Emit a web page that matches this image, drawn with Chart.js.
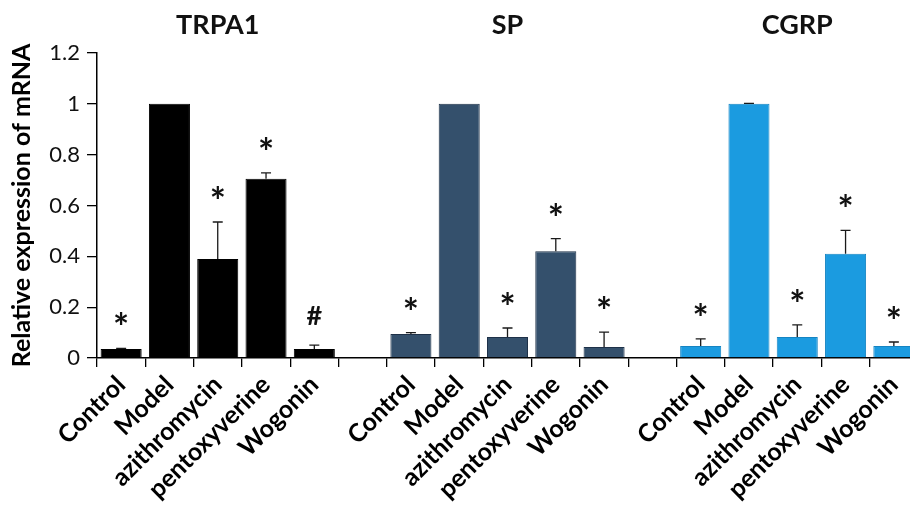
<!DOCTYPE html>
<html>
<head>
<meta charset="utf-8">
<title>Relative expression of mRNA</title>
<script src="https://cdn.jsdelivr.net/npm/chart.js@4.4.1/dist/chart.umd.min.js"></script>
<style>
  html, body { margin: 0; padding: 0; background: #fff; overflow: hidden; }
  #wrap { width: 910px; height: 513px; overflow: hidden; }
  canvas { display: block; }
</style>
</head>
<body>
<div id="wrap"><canvas id="chart" width="925" height="513"></canvas></div>
<script>
// Gene panels and treatment groups
const genes = ["TRPA1", "SP", "CGRP"];
const treatments = ["Control", "Model", "azithromycin", "pentoxyverine", "Wogonin"];

// Mean relative expression (Model = 1) and upper error (SD)
const trpa1Mean = [0.035, 1.0, 0.39, 0.705, 0.035];
const trpa1Err  = [0.003, 0.0, 0.145, 0.023, 0.016];
const spMean    = [0.094, 1.0, 0.083, 0.42, 0.043];
const spErr     = [0.006, 0.0, 0.035, 0.05, 0.059];
const cgrpMean  = [0.047, 1.0, 0.083, 0.41, 0.047];
const cgrpErr   = [0.028, 0.002, 0.047, 0.092, 0.016];

// Significance marks
const trpa1Marks = ["*", "", "*", "*", "#"];
const spMarks    = ["*", "", "*", "*", "*"];
const cgrpMarks  = ["*", "", "*", "*", "*"];

// Y axis ticks
const yTicks = [0, 0.2, 0.4, 0.6, 0.8, 1, 1.2];

const colors = {
  TRPA1: { fill: "#000000", edge: "#000000" },
  SP:    { fill: "#34506c", edge: "#1e3148" },
  CGRP:  { fill: "#1b9be0", edge: "#1584c2" }
};

const FONT = "Lato, 'Open Sans', sans-serif";

// Category axis: five treatments per gene, with an empty slot between genes
const labels = [];
const slotOf = {};
genes.forEach((g, gi) => {
  if (gi > 0) labels.push("");
  slotOf[g] = labels.length;
  treatments.forEach(t => labels.push(t));
});

function spread(gene, values) {
  const out = labels.map(() => null);
  values.forEach((v, i) => { out[slotOf[gene] + i] = v; });
  return out;
}

const seriesDefs = [
  { gene: "TRPA1", mean: trpa1Mean, err: trpa1Err, marks: trpa1Marks },
  { gene: "SP",    mean: spMean,    err: spErr,    marks: spMarks },
  { gene: "CGRP",  mean: cgrpMean,  err: cgrpErr,  marks: cgrpMarks }
];

const datasets = seriesDefs.map(s => ({
  label: s.gene,
  data: spread(s.gene, s.mean),
  errors: spread(s.gene, s.err),
  marks: spread(s.gene, s.marks),
  backgroundColor: colors[s.gene].fill,
  borderColor: colors[s.gene].edge,
  borderWidth: 1,
  grouped: false,
  barPercentage: 0.85,
  categoryPercentage: 1.0
}));

// Upper error whiskers, significance marks and gene titles
const annotations = {
  id: "annotations",
  afterDatasetsDraw(chart) {
    const ctx = chart.ctx;
    const y = chart.scales.y;
    const x = chart.scales.x;
    ctx.save();
    chart.data.datasets.forEach((ds, di) => {
      const meta = chart.getDatasetMeta(di);
      ds.data.forEach((v, i) => {
        if (v === null) return;
        const bar = meta.data[i];
        const e = ds.errors[i] || 0;
        const top = y.getPixelForValue(v + e);
        const base = y.getPixelForValue(v);
        if (e > 0) {
          ctx.strokeStyle = "#1a1a1a";
          ctx.lineWidth = 1.3;
          ctx.beginPath();
          ctx.moveTo(bar.x, base);
          ctx.lineTo(bar.x, top);
          ctx.moveTo(bar.x - 5, top);
          ctx.lineTo(bar.x + 5, top);
          ctx.stroke();
        }
        const mark = ds.marks[i];
        if (mark) {
          const isStar = mark === "*";
          ctx.font = (isStar ? "bold 38px " : "bold 27px ") + FONT;
          ctx.fillStyle = "#111";
          ctx.textAlign = "center";
          ctx.textBaseline = "alphabetic";
          const m = ctx.measureText(mark);
          const cy = top - 30;
          const h = m.actualBoundingBoxAscent - m.actualBoundingBoxDescent;
          ctx.fillText(mark, bar.x, cy + h / 2);
        }
      });
    });
    // Gene titles centred over each panel
    ctx.font = "bold 27px " + FONT;
    ctx.fillStyle = "#111";
    ctx.textAlign = "center";
    ctx.textBaseline = "middle";
    genes.forEach(g => {
      ctx.fillText(g, x.getPixelForValue(slotOf[g] + 2), 25);
    });
    ctx.restore();
  }
};

new Chart(document.getElementById("chart"), {
  type: "bar",
  data: { labels, datasets },
  options: {
    responsive: false,
    animation: false,
    layout: { padding: { top: 53, right: 7, left: 0, bottom: 0 } },
    plugins: { legend: { display: false }, tooltip: { enabled: false } },
    scales: {
      x: {
        offset: true,
        grid: {
          display: true,
          offset: true,
          drawOnChartArea: false,
          drawTicks: true,
          tickLength: 9,
          color: "#000",
          lineWidth: 1.3
        },
        border: { display: true, color: "#000", width: 1.5 },
        ticks: {
          autoSkip: false,
          maxRotation: 45,
          minRotation: 45,
          padding: 3,
          color: "#000",
          font: { family: FONT, size: 25, weight: "bold" }
        },
        afterFit(scale) { scale.height = 155; }
      },
      y: {
        min: 0,
        max: 1.2,
        afterBuildTicks(scale) { scale.ticks = yTicks.map(v => ({ value: v })); },
        grid: {
          display: true,
          drawOnChartArea: false,
          drawTicks: true,
          tickLength: 10,
          color: "#000",
          lineWidth: 1.3
        },
        border: { display: true, color: "#000", width: 1.5 },
        ticks: {
          padding: 7,
          color: "#111",
          font: { family: FONT, size: 22 },
          callback: v => String(Number(v.toFixed(1)))
        },
        title: {
          display: true,
          text: "Relative expression of mRNA",
          color: "#000",
          font: { family: FONT, size: 25, weight: "bold" },
          padding: { top: 7, bottom: 0 }
        },
        afterFit(scale) { scale.width = 97; }
      }
    }
  },
  plugins: [annotations]
});
</script>
</body>
</html>
